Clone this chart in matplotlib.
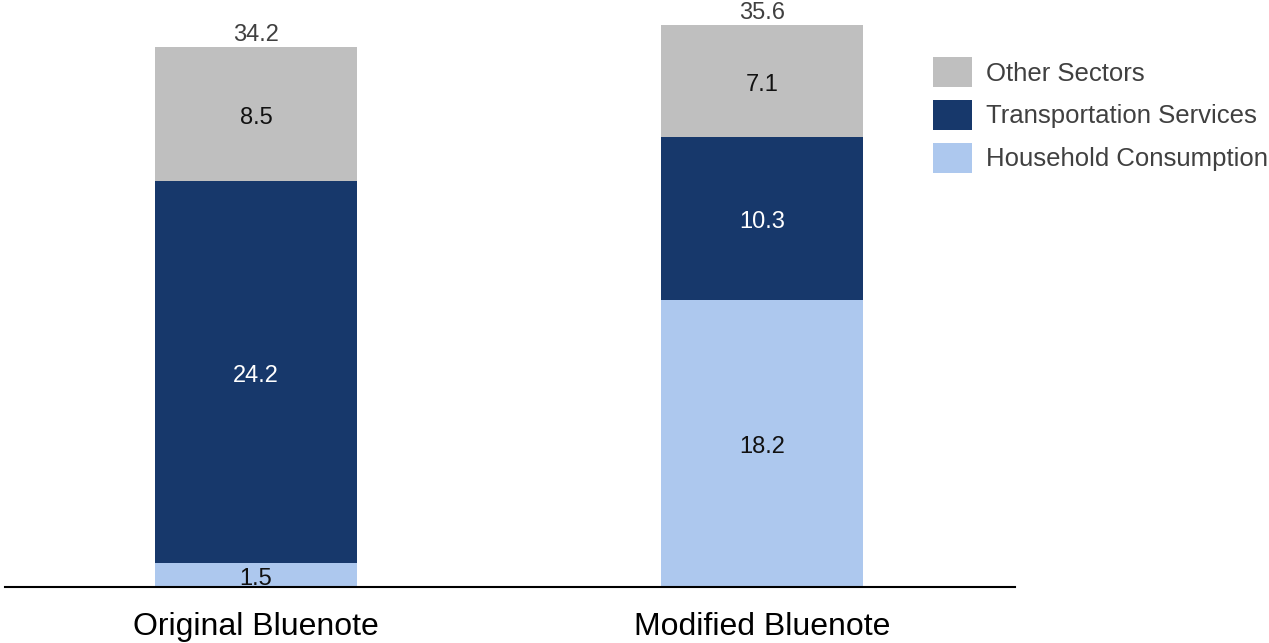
import matplotlib
matplotlib.use("Agg")
import matplotlib.pyplot as plt
import numpy as np

plt.rcParams['font.family'] = ['Liberation Sans', 'DejaVu Sans']

categories = ["Original Bluenote", "Modified Bluenote"]
household = [1.5, 18.2]
transport = [24.2, 10.3]
other = [8.5, 7.1]
totals = [34.2, 35.6]

c_house = "#ADC8EE"
c_trans = "#17386B"
c_other = "#BFBFBF"

fig = plt.figure(figsize=(12.69, 6.43), dpi=100)
ax = fig.add_axes([5/1269, 56/643, 1010/1269, 587/643])

x = np.arange(len(categories))
w = 0.4
b1 = ax.bar(x, household, w, color=c_house, label="Household Consumption")
b2 = ax.bar(x, transport, w, bottom=household, color=c_trans, label="Transportation Services")
bot3 = np.array(household) + np.array(transport)
b3 = ax.bar(x, other, w, bottom=bot3, color=c_other, label="Other Sectors")

def seg_label(xv, yv, txt, color):
    ax.annotate(txt, (xv, yv), xytext=(0, -3), textcoords="offset points",
                ha="center", va="center", fontsize=17, color=color)

for i in range(len(x)):
    seg_label(x[i], household[i] / 2, f"{household[i]:.1f}", "#111111")
    seg_label(x[i], household[i] + transport[i] / 2, f"{transport[i]:.1f}", "white")
    seg_label(x[i], bot3[i] + other[i] / 2, f"{other[i]:.1f}", "#111111")
    ax.annotate(f"{totals[i]:.1f}", (x[i], bot3[i] + other[i]), xytext=(0, 0.5),
                textcoords="offset points", ha="center", va="bottom",
                fontsize=17, color="#404040")

ax.set_xlim(-0.496, 1.5)
ax.set_ylim(0, 587 / 15.79)
ax.set_xticks(x)
ax.set_xticklabels(categories, fontsize=23, color="black")
ax.tick_params(axis="x", length=0, pad=18)
ax.set_yticks([])
for s in ["left", "right", "top"]:
    ax.spines[s].set_visible(False)
ax.spines["bottom"].set_linewidth(1.5)
ax.spines["bottom"].set_color("black")

handles = [b3, b2, b1]
labels = ["Other Sectors", "Transportation Services", "Household Consumption"]
leg = fig.legend(handles, labels, loc="upper left", bbox_to_anchor=(933/1269, 1 - 57/643),
                 frameon=False, fontsize=18.5, handlelength=1.5, handleheight=1.42,
                 handletextpad=0.55, labelspacing=0.5, borderpad=0, borderaxespad=0)
for t in leg.get_texts():
    t.set_color("#404040")

fig.savefig("out.png", dpi=100)
